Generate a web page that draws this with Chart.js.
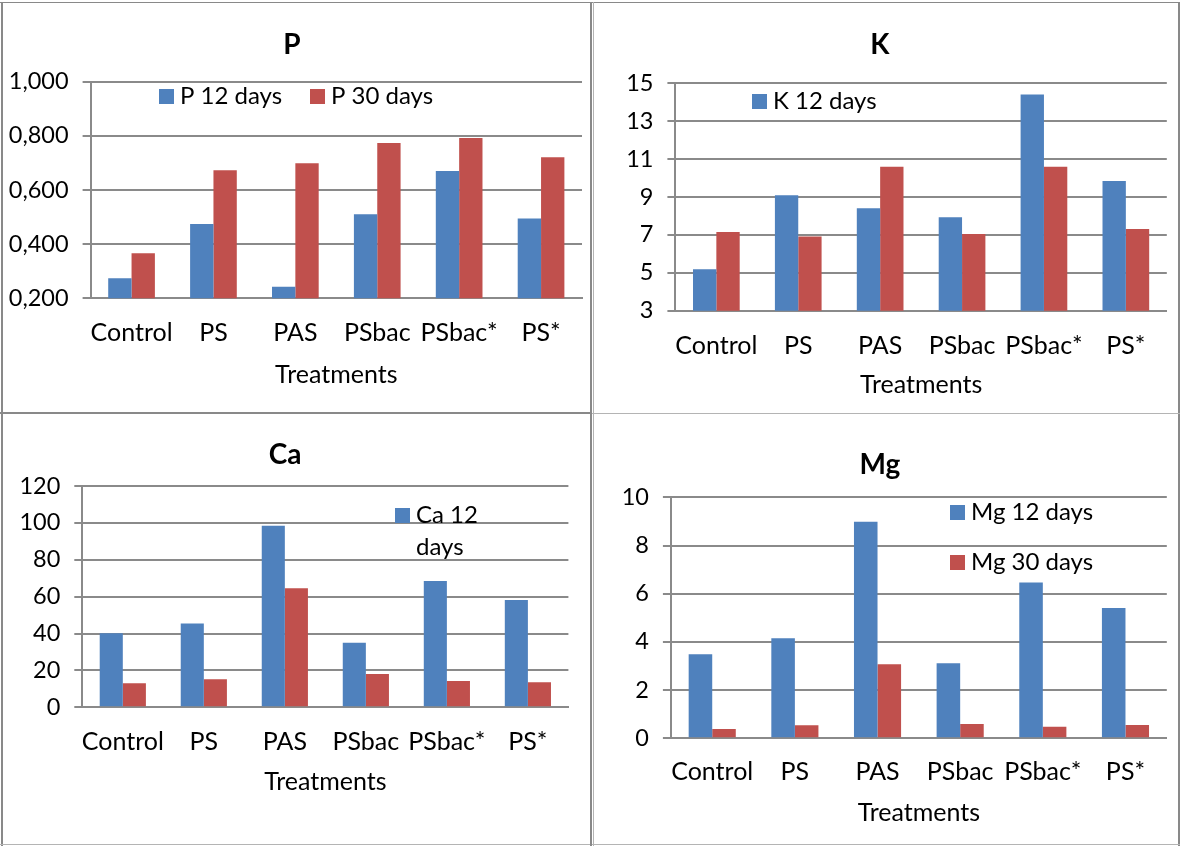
<!DOCTYPE html>
<html>
<head>
<meta charset="utf-8">
<title>Nutrient content by treatment</title>
<script src="https://cdn.jsdelivr.net/npm/chart.js@4.4.1/dist/chart.umd.min.js"></script>
<style>
  html, body { margin: 0; padding: 0; background: #fff; }
  #page { position: relative; width: 1181px; height: 846px; overflow: hidden; background: #fff; }
  .panel { position: absolute; }
  .panel canvas { display: block; }
  .rule { position: absolute; background: #898989; }
  .rule.light { background: #b4b4b4; }
</style>
</head>
<body>
<div id="page">
  <div class="panel" style="left:2px;top:3px;width:588px;height:409px"><canvas id="chartP" width="588" height="409"></canvas></div>
  <div class="panel" style="left:593px;top:3px;width:586px;height:409px"><canvas id="chartK" width="586" height="409"></canvas></div>
  <div class="panel" style="left:2px;top:415px;width:588px;height:429px"><canvas id="chartCa" width="588" height="429"></canvas></div>
  <div class="panel" style="left:593px;top:415px;width:586px;height:429px"><canvas id="chartMg" width="586" height="429"></canvas></div>

  <!-- frame and dividers -->
  <div class="rule" style="left:0;top:2px;width:1180px;height:1px"></div>
  <div class="rule" style="left:1px;top:2px;width:2px;height:844px"></div>
  <div class="rule" style="left:1178px;top:2px;width:2px;height:844px"></div>
  <div class="rule light" style="left:0;top:844px;width:1180px;height:1px"></div>
  <div class="rule" style="left:590px;top:2px;width:2px;height:844px"></div>
  <div class="rule light" style="left:593px;top:2px;width:1px;height:844px"></div>
  <div class="rule" style="left:0;top:412px;width:591px;height:2px"></div>
  <div class="rule light" style="left:592px;top:413px;width:588px;height:1px"></div>
</div>

<script>
// ---- data ----
const treatments = ['Control', 'PS', 'PAS', 'PSbac', 'PSbac*', 'PS*'];

const p12  = [0.274, 0.474, 0.243, 0.510, 0.670, 0.495];
const p30  = [0.366, 0.673, 0.699, 0.774, 0.792, 0.721];
const k12  = [5.19, 9.09, 8.41, 7.93, 14.41, 9.85];
const k30  = [7.15, 6.91, 10.59, 7.05, 10.60, 7.31];
const ca12 = [40.1, 45.5, 98.5, 35.0, 68.5, 58.2];
const ca30 = [13.0, 15.2, 64.5, 18.1, 14.3, 13.6];
const mg12 = [3.49, 4.15, 8.99, 3.11, 6.46, 5.41];
const mg30 = [0.39, 0.54, 3.07, 0.59, 0.48, 0.55];

// value axis ranges: [min, max, step]
const pAxis  = [0.2, 1.0, 0.2];
const kAxis  = [3, 15, 2];
const caAxis = [0, 120, 20];
const mgAxis = [0, 10, 2];

const xTitle = 'Treatments';
const BLUE = '#4F81BD';
const RED = '#C0504D';
const GRID = '#8a8a8a';

Chart.defaults.font.family = 'Lato, "Open Sans", sans-serif';
Chart.defaults.color = '#000';

// Legend drawn inside the plot area, Excel style (no frame, optional word wrap)
const insideLegend = {
  id: 'insideLegend',
  afterDatasetsDraw(chart, args, opts) {
    if (!opts || !opts.items) return;
    const ctx = chart.ctx;
    const box = opts.box || 15;
    const gap = opts.gap || 6;
    const lineH = opts.lineHeight || 32;
    ctx.save();
    ctx.font = opts.font;
    ctx.textBaseline = 'middle';
    ctx.textAlign = 'left';
    opts.items.forEach(it => {
      const ds = chart.data.datasets[it.dataset];
      ctx.fillStyle = ds.backgroundColor;
      ctx.fillRect(it.x, Math.round(it.y - box / 2), box, box);
      const words = ds.label.split(' ');
      const lines = [];
      let cur = '';
      words.forEach(w => {
        const t = cur ? cur + ' ' + w : w;
        if (it.maxWidth && cur && ctx.measureText(t).width > it.maxWidth) {
          lines.push(cur);
          cur = w;
        } else {
          cur = t;
        }
      });
      if (cur) lines.push(cur);
      ctx.fillStyle = '#000';
      lines.forEach((ln, i) => ctx.fillText(ln, it.x + box + gap, it.y + i * lineH));
    });
    ctx.restore();
  }
};

function makeChart(id, cfg) {
  const [yMin, yMax, yStep] = cfg.axis;
  return new Chart(document.getElementById(id), {
    type: 'bar',
    data: {
      labels: treatments,
      datasets: [
        { label: cfg.names[0], data: cfg.a, backgroundColor: BLUE, borderWidth: 0 },
        { label: cfg.names[1], data: cfg.b, backgroundColor: RED, borderWidth: 0 }
      ]
    },
    options: {
      responsive: false,
      animation: false,
      devicePixelRatio: 1,
      layout: { padding: { left: 0, top: 0, right: cfg.padRight, bottom: 0 } },
      datasets: { bar: { barPercentage: 1.0, categoryPercentage: 0.57 } },
      plugins: {
        legend: { display: false },
        tooltip: { enabled: false },
        title: {
          display: true,
          text: cfg.title,
          font: { size: 28, weight: 'bold' },
          padding: { top: cfg.titleTop, bottom: cfg.titleBottom }
        },
        insideLegend: {
          font: '24px Lato',
          box: 15,
          gap: 6,
          lineHeight: 32,
          items: cfg.legend
        }
      },
      scales: {
        x: {
          grid: { display: false, drawTicks: false },
          border: { display: true, color: GRID, width: 2 },
          ticks: { font: { size: 25 }, padding: cfg.xTickPad, maxRotation: 0, autoSkip: false },
          title: {
            display: true,
            text: xTitle,
            font: { size: 25 },
            padding: { top: 0, bottom: cfg.xTitleBottom }
          },
          afterFit(scale) { scale.height = cfg.xHeight; }
        },
        y: {
          min: yMin,
          max: yMax,
          grid: { color: GRID, lineWidth: 2, drawTicks: true, tickLength: 8 },
          border: { display: true, color: GRID, width: 2 },
          ticks: {
            stepSize: yStep,
            padding: 14,
            font: { size: 23.5 },
            callback: cfg.fmt || (v => String(v))
          },
          afterFit(scale) { scale.width = cfg.yWidth; }
        }
      }
    },
    plugins: [insideLegend]
  });
}

function drawAll() {
  makeChart('chartP', {
    title: 'P', names: ['P 12 days', 'P 30 days'], a: p12, b: p30, axis: pAxis,
    fmt: v => v.toFixed(3).replace('.', ','),
    padRight: 8, yWidth: 88.6, xHeight: 113.7,
    titleTop: 25.2, titleBottom: 19.9, xTickPad: 19.7, xTitleBottom: 22.0,
    legend: [{ dataset: 0, x: 157, y: 93 }, { dataset: 1, x: 308, y: 93 }]
  });
  makeChart('chartK', {
    title: 'K', names: ['K 12 days', 'K 30 days'], a: k12, b: k30, axis: kAxis,
    padRight: 12.2, yWidth: 82.4, xHeight: 101.3,
    titleTop: 25.2, titleBottom: 21.5, xTickPad: 20.3, xTitleBottom: 12.0,
    legend: [{ dataset: 0, x: 159, y: 98 }]
  });
  makeChart('chartCa', {
    title: 'Ca', names: ['Ca 12 days', 'Ca 30 days'], a: ca12, b: ca30, axis: caAxis,
    padRight: 21.6, yWidth: 80.3, xHeight: 136.7,
    titleTop: 23.2, titleBottom: 14.2, xTickPad: 19.7, xTitleBottom: 47.0,
    legend: [{ dataset: 0, x: 393, y: 100, maxWidth: 70 }]
  });
  makeChart('chartMg', {
    title: 'Mg', names: ['Mg 12 days', 'Mg 30 days'], a: mg12, b: mg30, axis: mgAxis,
    padRight: 12.2, yWidth: 77.9, xHeight: 105.7,
    titleTop: 33.2, titleBottom: 15.5, xTickPad: 18.7, xTitleBottom: 16.0,
    legend: [{ dataset: 0, x: 357, y: 97.5 }, { dataset: 1, x: 357, y: 147 }]
  });
}

Promise.all([
  document.fonts.load('24px Lato'),
  document.fonts.load('bold 28px Lato')
]).then(drawAll, drawAll);
</script>
</body>
</html>
